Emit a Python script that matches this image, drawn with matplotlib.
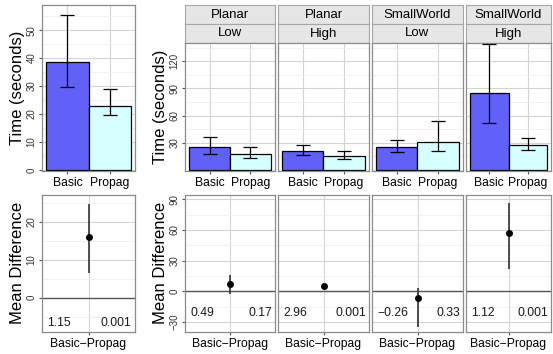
import numpy as np
import matplotlib.pyplot as plt
from matplotlib.ticker import MultipleLocator

plt.rcParams['font.family'] = ['Liberation Sans', 'DejaVu Sans']

# data
groups = ['Basic', 'Propag']
all_mean = [38.6, 22.9]
all_lo = [29.5, 19.5]
all_hi = [55.5, 28.8]

facet_graph = ['Planar', 'Planar', 'SmallWorld', 'SmallWorld']
facet_density = ['Low', 'High', 'Low', 'High']
facet_mean = [[25.0, 17.4], [21.1, 15.6], [25.1, 31.1], [85.4, 27.8]]
facet_lo = [[17.8, 13.4], [16.7, 12.6], [19.3, 20.7], [51.4, 22.2]]
facet_hi = [[36.6, 24.8], [27.8, 20.4], [33.3, 53.6], [139.2, 35.5]]

diff_label = 'Basic\u2212Propag'
all_diff = 16.0
all_diff_lo = 6.6
all_diff_hi = 24.7
all_effect = '1.15'
all_p = '0.001'

facet_diff = [7.6, 5.6, -6.5, 57.3]
facet_diff_lo = [-2.6, 4.0, -34.3, 22.0]
facet_diff_hi = [15.7, 7.2, 3.3, 86.0]
facet_effect = ['0.49', '2.96', '\u22120.26', '1.12']
facet_p = ['0.17', '0.001', '0.33', '0.001']

bar_colors = ['#6161f7', '#d6ffff']
W, H = 553, 354

fig = plt.figure(figsize=(W / 100, H / 100), dpi=100)


def px_axes(x0, y0, x1, y1):
    """axes in pixel coords, origin at the top left"""
    return fig.add_axes([x0 / W, 1 - y1 / H, (x1 - x0) / W, (y1 - y0) / H])


def style(ax, major, minor, show_y=True):
    ax.set_facecolor('white')
    for s in ax.spines.values():
        s.set_color('#8c8c8c')
        s.set_linewidth(0.9)
    ax.yaxis.set_major_locator(MultipleLocator(major))
    ax.yaxis.set_minor_locator(MultipleLocator(minor))
    ax.grid(True, which='major', color='#d4d4d4', linewidth=0.8)
    ax.grid(True, which='minor', axis='y', color='#ebebeb', linewidth=0.5)
    ax.set_axisbelow(True)
    ax.tick_params(axis='both', which='major', length=2.5, color='#555555',
                   labelsize=7, labelcolor='#333333', pad=1.5)
    ax.tick_params(axis='x', labelsize=8.7, labelcolor='black', pad=2)
    ax.tick_params(which='minor', length=0)
    if show_y:
        for lab in ax.get_yticklabels():
            lab.set_rotation(90)
            lab.set_va('center')
    else:
        ax.tick_params(axis='y', length=0, labelleft=False)


def bars(ax, mean, lo, hi):
    x = np.arange(1, len(groups) + 1)
    ax.bar(x, mean, width=1.0, color=bar_colors, edgecolor='black',
           linewidth=0.9, zorder=2)
    err = [np.array(mean) - np.array(lo), np.array(hi) - np.array(mean)]
    ax.errorbar(x, mean, yerr=err, fmt='none', ecolor='black',
                elinewidth=0.9, capsize=5.2, capthick=0.9, zorder=3)
    ax.set_xlim(0.4, 2.6)
    ax.set_xticks(x)
    ax.set_xticklabels(groups)


def diffs(ax, d, lo, hi, eff, p, text_y):
    ax.axhline(0, color='#555555', linewidth=1.0, zorder=1)
    ax.vlines([1], [lo], [hi], color='#333333', linewidth=1.2, zorder=2)
    ax.plot([1], [d], 'o', color='black', markersize=4, zorder=3)
    ax.set_xlim(0.4, 1.6)
    ax.set_xticks([1])
    ax.set_xticklabels([diff_label])
    tr = ax.get_yaxis_transform()
    ax.text(0.06, text_y, eff, transform=tr, ha='left', va='center',
            fontsize=8.7, color='#1a1a1a')
    ax.text(0.965, text_y, p, transform=tr, ha='right', va='center',
            fontsize=8.7, color='#1a1a1a')


# overall bars
ax = px_axes(42, 5, 135, 170.5)
bars(ax, all_mean, all_lo, all_hi)
ax.set_ylim(-0.2, 59)
style(ax, 10, 5)
ax.set_ylabel('Time (seconds)', fontsize=12, labelpad=1)

# overall difference
ax = px_axes(42, 195, 135, 331.7)
diffs(ax, all_diff, all_diff_lo, all_diff_hi, all_effect, all_p, -6.7)
ax.set_ylim(-8.9, 27)
style(ax, 10, 5)
ax.set_ylabel('Mean Difference', fontsize=12, labelpad=1)

# facets
xs = [(185, 275), (278, 369), (372, 463), (466, 551)]
for i, (x0, x1) in enumerate(xs):
    for j, (lab, (y0, y1)) in enumerate([(facet_graph[i], (5, 24)),
                                          (facet_density[i], (24, 43))]):
        sa = px_axes(x0, y0, x1, y1)
        sa.set_facecolor('#e6e6e6')
        sa.set_xticks([])
        sa.set_yticks([])
        for s in sa.spines.values():
            s.set_color('#a6a6a6')
            s.set_linewidth(0.8)
        sa.text(0.5, 0.5, lab, transform=sa.transAxes, ha='center',
                va='center', fontsize=9.5)

    ax = px_axes(x0, 43, x1, 170.5)
    bars(ax, facet_mean[i], facet_lo[i], facet_hi[i])
    ax.set_ylim(-0.6, 140)
    style(ax, 30, 15, show_y=(i == 0))
    ax.set_yticks([30, 60, 90, 120])
    if i == 0:
        for lab in ax.get_yticklabels():
            lab.set_rotation(90)
            lab.set_va('center')
        ax.set_ylabel('Time (seconds)', fontsize=12, labelpad=1)

    ax = px_axes(x0, 195, x1, 331.7)
    diffs(ax, facet_diff[i], facet_diff_lo[i], facet_diff_hi[i],
          facet_effect[i], facet_p[i], -21)
    ax.set_ylim(-39.3, 94.2)
    style(ax, 30, 15, show_y=(i == 0))
    if i == 0:
        ax.set_ylabel('Mean Difference', fontsize=12, labelpad=1)

fig.savefig('out.png', dpi=100)
